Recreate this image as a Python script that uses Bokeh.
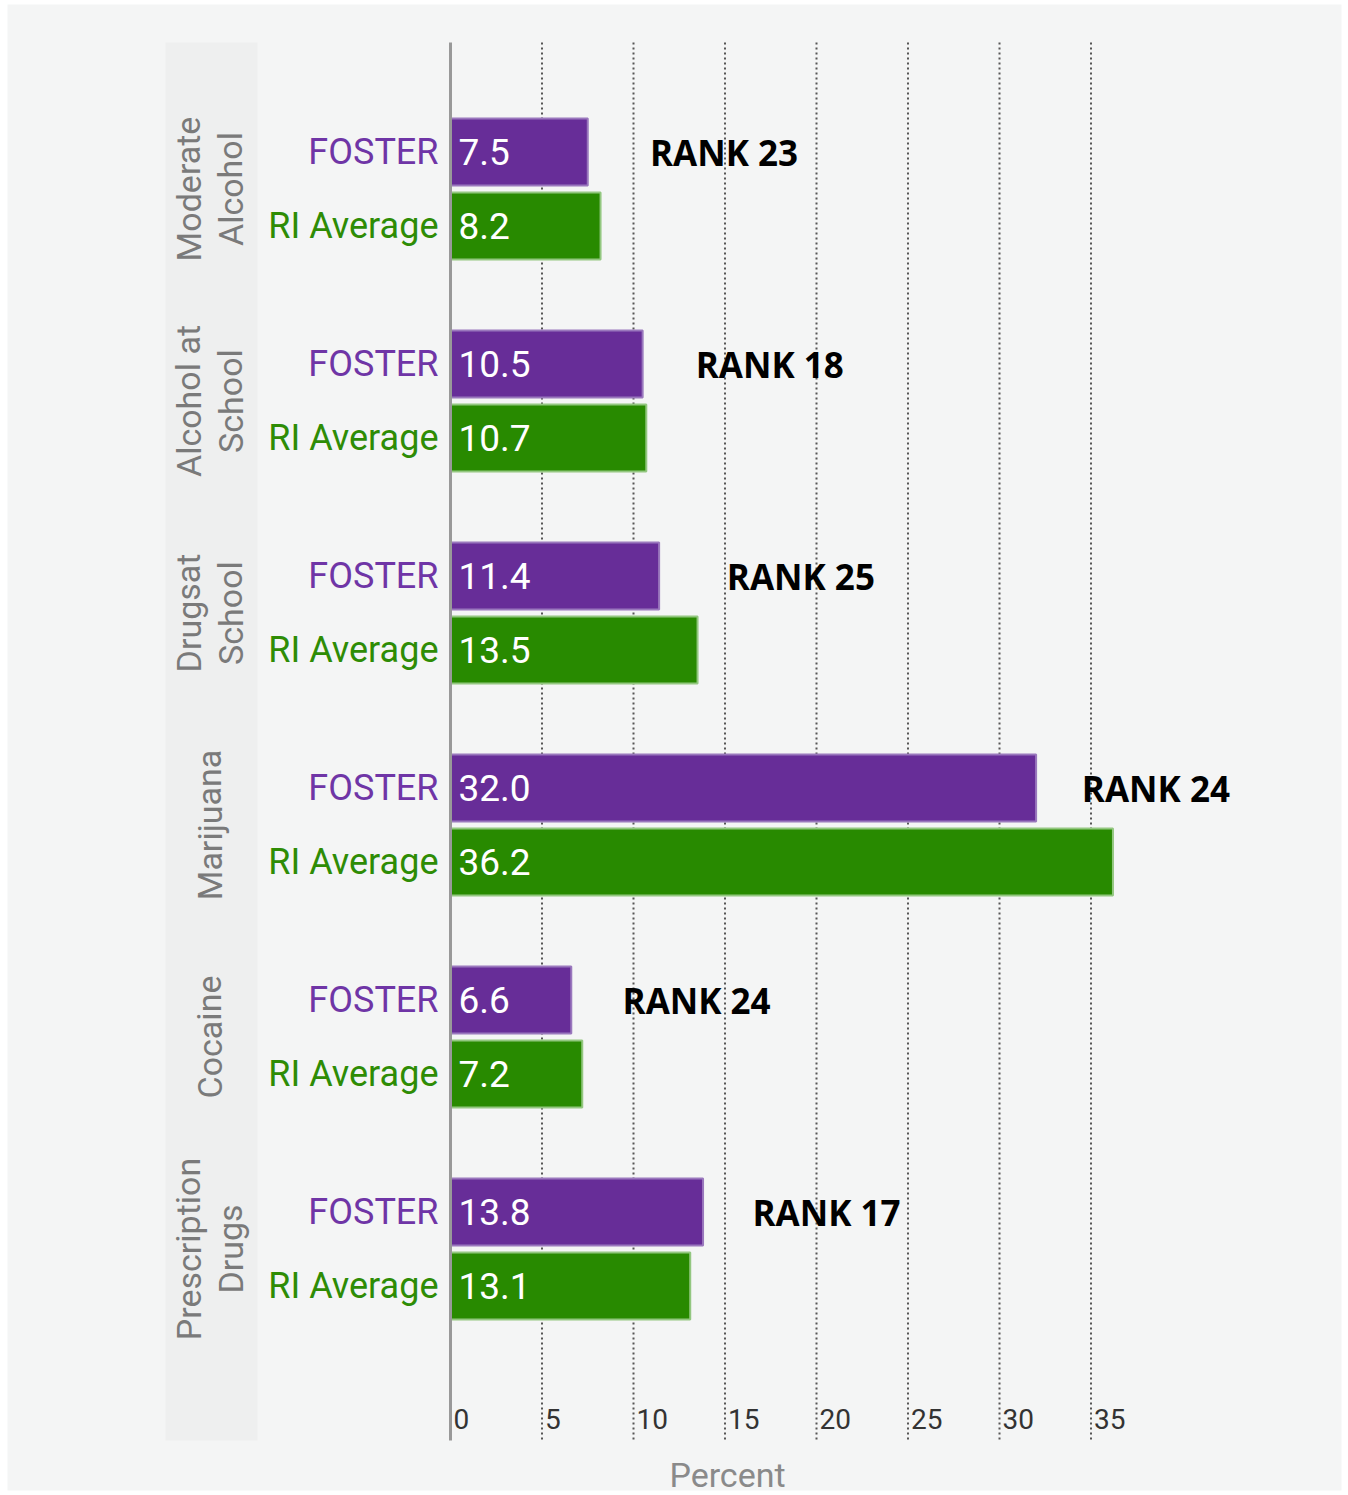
from bokeh.plotting import figure
from bokeh.models import Range1d, ColumnDataSource
from bokeh.core.properties import value
from bokeh.embed import file_html
from bokeh.resources import INLINE

# ---- data ----
categories = ["Moderate\nAlcohol", "Alcohol at\nSchool", "Drugsat\nSchool",
              "Marijuana", "Cocaine", "Prescription\nDrugs"]
foster = [7.5, 10.5, 11.4, 32.0, 6.6, 13.8]
ri_average = [8.2, 10.7, 13.5, 36.2, 7.2, 13.1]
ranks = [23, 18, 25, 24, 24, 17]
rank_label_x = [10.9, 13.4, 15.1, 34.5, 9.4, 16.5]
x_ticks = [0, 5, 10, 15, 20, 25, 30, 35]
series_names = ["FOSTER", "RI Average"]

# ---- layout ----
W, H = 1348, 1495
PX = 18.3              # pixels per percent
X0 = 450               # pixel of x=0
x_start = -X0 / PX
x_end = (W - X0) / PX

GROUP_STEP = 212
FIRST = 151.5           # centre of first FOSTER bar (px)
BAR_H = 67
PAIR = 74
TOP, BOTTOM = 42, 1440

PURPLE = "#672d98"
GREEN = "#288a00"
BG = "#f4f5f5"
FONT = value("Roboto")

def px(v):
    return (v - X0) / PX

p = figure(width=W, height=H, x_range=Range1d(x_start, x_end),
           y_range=Range1d(H, 0), output_backend="svg", toolbar_location=None,
           min_border=0, background_fill_color="white", border_fill_color="white")
p.axis.visible = False
p.grid.visible = False
p.outline_line_color = None

n = len(categories)
fy = [FIRST + GROUP_STEP * i for i in range(n)]
ry = [y + PAIR for y in fy]
cy = [(a + b) / 2 for a, b in zip(fy, ry)]

# page background
p.quad(left=[px(7)], right=[px(1341)], top=[4], bottom=[1490],
       fill_color=BG, line_color=None)
# left label panel
p.quad(left=[px(165)], right=[px(257)], top=[TOP], bottom=[BOTTOM],
       fill_color="#eeefef", line_color=None)

# gridlines
gx = x_ticks[1:]
p.segment(x0=gx, x1=gx, y0=[TOP] * len(gx), y1=[BOTTOM] * len(gx),
          line_color="#555555", line_width=2, line_dash="2 3")

# bars
src_f = ColumnDataSource(dict(y=fy, v=foster, lab=[f"{v:.1f}" for v in foster],
                              name=[series_names[0]] * n))
src_r = ColumnDataSource(dict(y=ry, v=ri_average, lab=[f"{v:.1f}" for v in ri_average],
                              name=[series_names[1]] * n))
p.hbar(y="y", left=0, right="v", height=BAR_H, source=src_f,
       fill_color=PURPLE, line_color="#9a78bd", line_width=2)
p.hbar(y="y", left=0, right="v", height=BAR_H, source=src_r,
       fill_color=GREEN, line_color="#93c780", line_width=2)

# axis line
p.segment(x0=[0], x1=[0], y0=[TOP], y1=[BOTTOM], line_color="#999999", line_width=3)

# value labels inside bars
for src in (src_f, src_r):
    p.text(x=0, y="y", text="lab", source=src, x_offset=8, text_color="white",
           text_font=FONT, text_font_size="37px", text_align="left",
           text_baseline="middle")

# series labels left of bars
p.text(x=0, y="y", text="name", source=src_f, x_offset=-12, text_color="#6f35a6",
       text_font=FONT, text_font_size="36px", text_align="right", text_baseline="middle")
p.text(x=0, y="y", text="name", source=src_r, x_offset=-12, text_color="#2e8c05",
       text_font=FONT, text_font_size="36px", text_align="right", text_baseline="middle")

# category labels (rotated)
p.text(x=[px(209)] * n, y=cy, text=categories, angle=1.5708,
       text_color="#7a7a7a", text_font=FONT, text_font_size="34px",
       text_align="center", text_baseline="middle", text_line_height=1.05)

# rank labels
p.text(x=rank_label_x, y=fy, text=[f"RANK {r}" for r in ranks],
       text_color="black", text_font=value("Open Sans"), text_font_style="bold",
       text_font_size="35px", text_align="left", text_baseline="middle")

# tick labels
p.text(x=x_ticks, y=[1418] * len(x_ticks), text=[str(t) for t in x_ticks], x_offset=3,
       text_color="#333333", text_font=FONT, text_font_size="28px",
       text_align="left", text_baseline="middle")

# axis title
p.text(x=[px(727)], y=[1474], text=["Percent"], text_color="#8a8a8a",
       text_font=FONT, text_font_size="34px", text_align="center",
       text_baseline="middle")

open("out.html", "w").write(file_html(p, INLINE))
